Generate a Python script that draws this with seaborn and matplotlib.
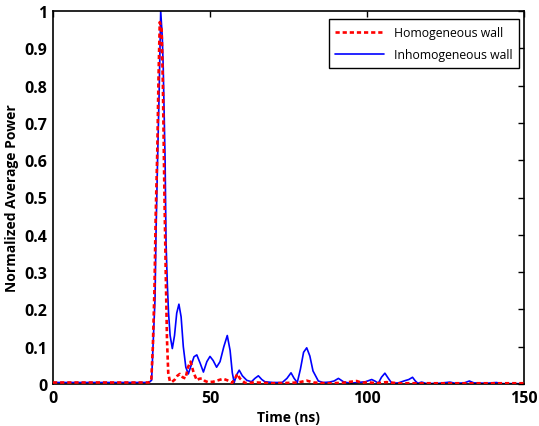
import matplotlib
matplotlib.use("Agg")
import matplotlib.pyplot as plt
import seaborn as sns
import pandas as pd

# ---------------- data ----------------
blue_t = [0, 30.5, 31.4, 31.9, 32.5, 32.8, 33.3, 33.8, 34.3, 34.8, 35.1, 35.7, 36.0, 36.4,
          36.8, 37.3, 38.0, 38.7, 39.4, 40.1, 40.8, 41.5, 42.3, 43.1, 44.0, 44.9, 45.8,
          46.9, 47.9, 49.0, 50.0, 51.0, 52.1, 53.2, 54.4, 55.5, 56.4, 57.1, 57.7, 58.5,
          59.3, 60.3, 61.7, 63.2, 64.3, 65.4, 66.5, 67.5, 70, 73, 74.5, 75.8, 76.8, 77.8,
          78.8, 79.8, 80.8, 81.8, 82.8, 84.5, 86, 88, 89.5, 90.9, 92.5, 94.6, 97, 99.5,
          101.5, 102.5, 103.6, 104.6, 105.7, 106.8, 107.9, 110, 112.1, 113.3, 114.5,
          115.4, 116.2, 117.4, 119, 123, 126.4, 128, 131, 132.6, 134, 138, 141.3, 142.5, 150]
blue_p = [0.004, 0.004, 0.01, 0.11, 0.23, 0.40, 0.60, 0.78, 1.0, 0.93, 0.85, 0.6, 0.38, 0.27,
          0.19, 0.13, 0.095, 0.13, 0.19, 0.214, 0.18, 0.10, 0.045, 0.027, 0.05, 0.073, 0.078,
          0.055, 0.032, 0.06, 0.074, 0.063, 0.045, 0.06, 0.10, 0.13, 0.09, 0.03, 0.004, 0.025,
          0.037, 0.022, 0.01, 0.006, 0.015, 0.022, 0.012, 0.006, 0.004, 0.004, 0.015, 0.03,
          0.015, 0.004, 0.04, 0.085, 0.097, 0.075, 0.035, 0.008, 0.004, 0.005, 0.008, 0.015,
          0.006, 0.002, 0.004, 0.006, 0.012, 0.008, 0.002, 0.018, 0.029, 0.015, 0.002, 0.003,
          0.009, 0.012, 0.018, 0.008, 0.002, 0.005, 0.001, 0.002, 0.005, 0.002, 0.003, 0.008,
          0.003, 0.002, 0.004, 0.001, 0.001]

red_t = [0, 30.5, 31.3, 31.8, 32.3, 32.7, 33.2, 33.6, 34.0, 34.6, 35.0, 35.5, 35.9, 36.3,
         36.7, 37.2, 37.8, 38.8, 39.6, 40.4, 41.3, 42.2, 43.0, 43.8, 44.8, 45.8, 46.6, 47.4,
         48.4, 49.4, 51, 52.6, 54.2, 55.5, 57.0, 58.0, 58.7, 59.5, 61.1, 65, 70, 75, 78,
         80.8, 83, 87, 92, 96.7, 98.5, 100, 103, 106.2, 110, 120, 130, 150]
red_p = [0.004, 0.004, 0.01, 0.10, 0.25, 0.45, 0.62, 0.82, 0.97, 0.95, 0.80, 0.50, 0.30, 0.12,
         0.03, 0.008, 0.005, 0.012, 0.022, 0.027, 0.018, 0.015, 0.045, 0.06, 0.03, 0.01, 0.014,
         0.015, 0.008, 0.005, 0.006, 0.01, 0.014, 0.01, 0.003, 0.015, 0.027, 0.015, 0.003,
         0.004, 0.002, 0.003, 0.004, 0.009, 0.004, 0.002, 0.003, 0.008, 0.003, 0.005, 0.002,
         0.005, 0.002, 0.002, 0.002, 0.002]

series_names = ["Homogeneous wall", "Inhomogeneous wall"]
x_ticks = [0, 50, 100, 150]
y_ticks = [0, 0.1, 0.2, 0.3, 0.4, 0.5, 0.6, 0.7, 0.8, 0.9, 1]
y_tick_labels = ["0", "0.1", "0.2", "0.3", "0.4", "0.5", "0.6", "0.7", "0.8", "0.9", "1"]

# ---------------- plotting ----------------
sns.set_theme(style="white")
plt.rcParams["font.family"] = ["Open Sans", "DejaVu Sans"]
plt.rcParams["text.color"] = "black"
plt.rcParams["axes.labelcolor"] = "black"

fig = plt.figure(figsize=(5.39, 4.27), dpi=100)
ax = fig.add_axes([53 / 539, 42 / 427, 471 / 539, 373 / 427])

df_red = pd.DataFrame({"t": red_t, "p": red_p})
df_blue = pd.DataFrame({"t": blue_t, "p": blue_p})

sns.lineplot(data=df_red, x="t", y="p", ax=ax, color="#ff0000", linewidth=1.9,
             linestyle=(0, (1.6, 1.1)), estimator=None, sort=False,
             label=series_names[0], zorder=3)
sns.lineplot(data=df_blue, x="t", y="p", ax=ax, color="#0000ff", linewidth=1.2,
             estimator=None, sort=False, label=series_names[1], zorder=2)

ax.set_xlim(0, 150)
ax.set_ylim(0, 1)
ax.set_xticks(x_ticks)
ax.set_yticks(y_ticks)
bold_font = {"family": ["Open Sans", "DejaVu Sans"], "weight": "bold", "size": 11.5}
ax.set_xticklabels([str(v) for v in x_ticks], fontdict=bold_font)
ax.set_yticklabels(y_tick_labels, fontdict=bold_font)
ax.tick_params(direction="in", length=4, width=1, top=True, right=True,
               colors="black", pad=4)
for s in ax.spines.values():
    s.set_color("black")
    s.set_linewidth(1.2)

ax.set_xlabel("Time (ns)", fontsize=10, fontweight="bold", labelpad=3)
ax.set_ylabel("Normalized Average Power", fontsize=10, fontweight="bold", labelpad=4)

leg = ax.legend(loc="upper right", bbox_to_anchor=(0.99, 0.978), fontsize=8.8,
                frameon=True, fancybox=False, edgecolor="black", framealpha=1,
                handlelength=4.0, borderpad=0.55, labelspacing=0.75, handletextpad=0.8,
                borderaxespad=0)
leg.get_frame().set_linewidth(1.0)
for t in leg.get_texts():
    t.set_color("black")

fig.savefig("out.png", dpi=100)
